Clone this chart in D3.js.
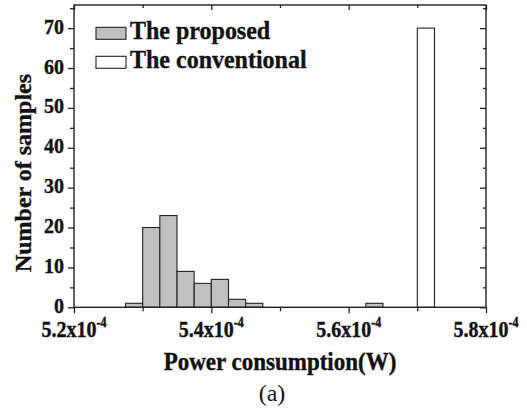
<!DOCTYPE html>
<html>
<head>
<meta charset="utf-8">
<script src="https://cdn.jsdelivr.net/npm/d3@7"></script>
<style>
  body { margin: 0; background: #fff; }
  svg text { font-family: "Liberation Serif", "Times New Roman", serif; fill: #111; }
  svg text.b { font-weight: bold; stroke: #111; stroke-width: 0.35; }
</style>
</head>
<body>
<svg></svg>
<script>
// histogram bins, x in units of 1e-4 W
const binWidth = 0.025;
const proposedLeft = [5.275, 5.300, 5.325, 5.350, 5.375, 5.400, 5.425, 5.450, 5.625];
const proposedCounts = [1, 20, 23, 9, 6, 7, 2, 1, 1];
const conventionalLeft = [5.700];
const conventionalCounts = [70];

const xMajor = [5.2, 5.4, 5.6, 5.8];
const xMinor = [5.3, 5.5, 5.7];
const yMajor = [0, 10, 20, 30, 40, 50, 60, 70];
const yMinor = [5, 15, 25, 35, 45, 55, 65, 75];

const size = {w: 527, h: 413};
const plot = {l: 74, r: 486, t: 5, b: 307.3};
const svg = d3.select('svg').attr('width', size.w).attr('height', size.h);

const x = d3.scaleLinear().domain([5.2, 5.8]).range([plot.l, plot.r]);
const y = d3.scaleLinear().domain([0, 75.8]).range([plot.b, plot.t]);

// bars
function drawBars(lefts, counts, fill) {
    svg.append('g').selectAll('rect')
        .data(lefts.map((d, i) => ({x0: d, c: counts[i]})))
        .enter().append('rect')
        .attr('x', d => x(d.x0))
        .attr('y', d => y(d.c))
        .attr('width', d => x(d.x0 + binWidth) - x(d.x0))
        .attr('height', d => y(0) - y(d.c))
        .attr('fill', fill)
        .attr('stroke', '#222')
        .attr('stroke-width', 1.1);
}
drawBars(proposedLeft, proposedCounts, '#c0c0c0');
drawBars(conventionalLeft, conventionalCounts, '#ffffff');

// axes: ticks on all four sides
function tickAxis(axisFn, scale, vals, len, transform) {
    svg.append('g')
        .attr('transform', transform)
        .call(axisFn(scale).tickValues(vals).tickSize(len).tickFormat(''))
        .call(g => g.select('.domain').remove())
        .call(g => g.selectAll('line').attr('stroke', '#222').attr('stroke-width', 1.3));
}
tickAxis(d3.axisBottom, x, xMajor, 6, `translate(0,${plot.b})`);
tickAxis(d3.axisBottom, x, xMinor, 4, `translate(0,${plot.b})`);
tickAxis(d3.axisBottom, x, xMajor, 5, `translate(0,${plot.t})`);
tickAxis(d3.axisBottom, x, xMinor, 3, `translate(0,${plot.t})`);
tickAxis(d3.axisLeft, y, yMajor, 6, `translate(${plot.l},0)`);
tickAxis(d3.axisLeft, y, yMinor, 4, `translate(${plot.l},0)`);
tickAxis(d3.axisLeft, y, yMajor, 6, `translate(${plot.r},0)`);
tickAxis(d3.axisLeft, y, yMinor, 3, `translate(${plot.r},0)`);

svg.append('rect')
    .attr('x', plot.l).attr('y', plot.t)
    .attr('width', plot.r - plot.l).attr('height', plot.b - plot.t)
    .attr('fill', 'none').attr('stroke', '#222').attr('stroke-width', 1.4);

// tick labels (slightly stretched vertically like the scan)
svg.append('g').selectAll('text')
    .data(yMajor).enter().append('text')
    .classed('b', true)
    .attr('transform', d => `translate(${plot.l - 10},${y(d) + 5.5}) scale(1,1.08)`)
    .attr('text-anchor', 'end')
    .attr('font-size', 20)
    .text(d => d);

const xl = svg.append('g').selectAll('text')
    .data(xMajor).enter().append('text')
    .classed('b', true)
    .attr('transform', d => `translate(${x(d)},336.5) scale(1,1.18)`)
    .attr('text-anchor', 'middle')
    .attr('font-size', 20);
xl.append('tspan').text(d => d.toFixed(1) + 'x10');
xl.append('tspan').attr('dy', -8).attr('font-size', 12).text('-4');

// axis titles
svg.append('text')
    .classed('b', true)
    .attr('transform', 'translate(31,173) rotate(-90)')
    .attr('text-anchor', 'middle')
    .attr('font-size', 24)
    .text('Number of samples');

svg.append('text')
    .classed('b', true)
    .attr('transform', 'translate(280,370) scale(1,1.06)')
    .attr('text-anchor', 'middle')
    .attr('font-size', 23)
    .text('Power consumption(W)');

svg.append('text')
    .attr('x', 272).attr('y', 401)
    .attr('text-anchor', 'middle')
    .attr('font-size', 24)
    .text('(a)');

// legend
const legend = [
    {label: 'The proposed', fill: '#c0c0c0'},
    {label: 'The conventional', fill: '#ffffff'}
];
const lg = svg.append('g').selectAll('g')
    .data(legend).enter().append('g')
    .attr('transform', (d, i) => `translate(96,${27.3 + i * 29})`);
lg.append('rect')
    .attr('width', 30).attr('height', 12)
    .attr('fill', d => d.fill)
    .attr('stroke', '#222').attr('stroke-width', 1.1);
lg.append('text')
    .classed('b', true)
    .attr('transform', 'translate(34,11.5) scale(1,1.06)')
    .attr('font-size', 24)
    .text(d => d.label);
</script>
</body>
</html>
